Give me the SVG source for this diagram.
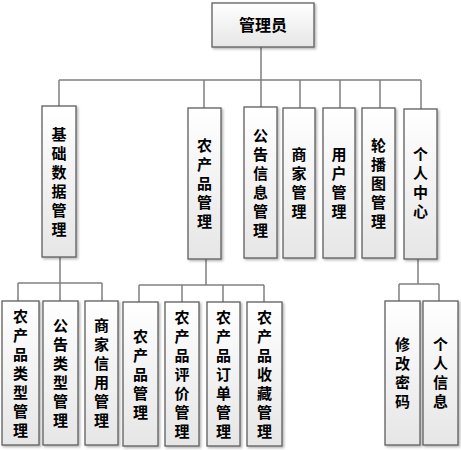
<svg xmlns="http://www.w3.org/2000/svg" width="461" height="450" viewBox="0 0 461 450">
<defs>
<linearGradient id="g" x1="0" y1="0" x2="0" y2="1">
<stop offset="0" stop-color="#ffffff"/>
<stop offset="1" stop-color="#e6e6e6"/>
</linearGradient>
<filter id="sh" x="-20%" y="-10%" width="150%" height="130%">
<feDropShadow dx="1.5" dy="1.5" stdDeviation="1" flood-color="#000" flood-opacity="0.3"/>
</filter>
</defs>
<style>
rect.b{fill:url(#g);stroke:#5f5f5f;stroke-width:1.3;filter:url(#sh)}
text{font-family:"Noto Sans CJK SC","Noto Sans",sans-serif;font-weight:bold;font-size:15px;fill:#000;text-anchor:middle}
#edges path{fill:none;stroke:#808080;stroke-width:1.5}
</style>
<rect width="461" height="450" fill="#fff"/>
<g id="edges">
<path d="M261 47V80M59 80H421M59 80V106M204 80V108M261 80V107M300 80V108M340 80V108M380 80V108M421 80V109"/>
<path d="M60 257V283M18 283H102M18 283V301M60 283V301M102 283V301"/>
<path d="M206 259V285M139 285H264M139 285V302M182 285V302M223 285V302M264 285V302"/>
<path d="M418 259V284M399 284H439M399 284V301M439 284V301"/>
</g>
<g id="root"><rect class="b" x="212" y="3" width="102" height="44"/><text x="263" y="31" style="font-size:16px">管理员</text></g>
<g id="n1"><rect class="b" x="42" y="106" width="34" height="151"/><text x="59" y="139.5"><tspan x="59">基</tspan><tspan x="59" dy="19">础</tspan><tspan x="59" dy="19">数</tspan><tspan x="59" dy="19">据</tspan><tspan x="59" dy="19">管</tspan><tspan x="59" dy="19">理</tspan></text></g>
<g id="n2"><rect class="b" x="188" y="108" width="33" height="151"/><text x="204.5" y="151"><tspan x="204.5">农</tspan><tspan x="204.5" dy="19">产</tspan><tspan x="204.5" dy="19">品</tspan><tspan x="204.5" dy="19">管</tspan><tspan x="204.5" dy="19">理</tspan></text></g>
<g id="n3"><rect class="b" x="244" y="107" width="33" height="151"/><text x="260.5" y="140.5"><tspan x="260.5">公</tspan><tspan x="260.5" dy="19">告</tspan><tspan x="260.5" dy="19">信</tspan><tspan x="260.5" dy="19">息</tspan><tspan x="260.5" dy="19">管</tspan><tspan x="260.5" dy="19">理</tspan></text></g>
<g id="n4"><rect class="b" x="283" y="108" width="32" height="150"/><text x="299" y="160"><tspan x="299">商</tspan><tspan x="299" dy="19">家</tspan><tspan x="299" dy="19">管</tspan><tspan x="299" dy="19">理</tspan></text></g>
<g id="n5"><rect class="b" x="323" y="108" width="32" height="150"/><text x="339" y="160"><tspan x="339">用</tspan><tspan x="339" dy="19">户</tspan><tspan x="339" dy="19">管</tspan><tspan x="339" dy="19">理</tspan></text></g>
<g id="n6"><rect class="b" x="362" y="108" width="33" height="150"/><text x="378.5" y="150.5"><tspan x="378.5">轮</tspan><tspan x="378.5" dy="19">播</tspan><tspan x="378.5" dy="19">图</tspan><tspan x="378.5" dy="19">管</tspan><tspan x="378.5" dy="19">理</tspan></text></g>
<g id="n7"><rect class="b" x="404" y="109" width="33" height="150"/><text x="420.5" y="160"><tspan x="420.5">个</tspan><tspan x="420.5" dy="19">人</tspan><tspan x="420.5" dy="19">中</tspan><tspan x="420.5" dy="19">心</tspan></text></g>
<g id="c1"><rect class="b" x="2" y="301" width="37" height="144"/><text x="20.5" y="321.5"><tspan x="20.5">农</tspan><tspan x="20.5" dy="19">产</tspan><tspan x="20.5" dy="19">品</tspan><tspan x="20.5" dy="19">类</tspan><tspan x="20.5" dy="19">型</tspan><tspan x="20.5" dy="19">管</tspan><tspan x="20.5" dy="19">理</tspan></text></g>
<g id="c2"><rect class="b" x="43" y="301" width="35" height="144"/><text x="60.5" y="331"><tspan x="60.5">公</tspan><tspan x="60.5" dy="19">告</tspan><tspan x="60.5" dy="19">类</tspan><tspan x="60.5" dy="19">型</tspan><tspan x="60.5" dy="19">管</tspan><tspan x="60.5" dy="19">理</tspan></text></g>
<g id="c3"><rect class="b" x="85" y="301" width="33" height="144"/><text x="101.5" y="331"><tspan x="101.5">商</tspan><tspan x="101.5" dy="19">家</tspan><tspan x="101.5" dy="19">信</tspan><tspan x="101.5" dy="19">用</tspan><tspan x="101.5" dy="19">管</tspan><tspan x="101.5" dy="19">理</tspan></text></g>
<g id="c4"><rect class="b" x="123" y="302" width="35" height="144"/><text x="140.5" y="341.5"><tspan x="140.5">农</tspan><tspan x="140.5" dy="19">产</tspan><tspan x="140.5" dy="19">品</tspan><tspan x="140.5" dy="19">管</tspan><tspan x="140.5" dy="19">理</tspan></text></g>
<g id="c5"><rect class="b" x="165" y="302" width="34" height="144"/><text x="182" y="322.5"><tspan x="182">农</tspan><tspan x="182" dy="19">产</tspan><tspan x="182" dy="19">品</tspan><tspan x="182" dy="19">评</tspan><tspan x="182" dy="19">价</tspan><tspan x="182" dy="19">管</tspan><tspan x="182" dy="19">理</tspan></text></g>
<g id="c6"><rect class="b" x="207" y="302" width="33" height="144"/><text x="223.5" y="322.5"><tspan x="223.5">农</tspan><tspan x="223.5" dy="19">产</tspan><tspan x="223.5" dy="19">品</tspan><tspan x="223.5" dy="19">订</tspan><tspan x="223.5" dy="19">单</tspan><tspan x="223.5" dy="19">管</tspan><tspan x="223.5" dy="19">理</tspan></text></g>
<g id="c7"><rect class="b" x="247" y="302" width="35" height="144"/><text x="264.5" y="322.5"><tspan x="264.5">农</tspan><tspan x="264.5" dy="19">产</tspan><tspan x="264.5" dy="19">品</tspan><tspan x="264.5" dy="19">收</tspan><tspan x="264.5" dy="19">藏</tspan><tspan x="264.5" dy="19">管</tspan><tspan x="264.5" dy="19">理</tspan></text></g>
<g id="c8"><rect class="b" x="385" y="301" width="35" height="144"/><text x="402.5" y="350"><tspan x="402.5">修</tspan><tspan x="402.5" dy="19">改</tspan><tspan x="402.5" dy="19">密</tspan><tspan x="402.5" dy="19">码</tspan></text></g>
<g id="c9"><rect class="b" x="423" y="301" width="35" height="144"/><text x="440.5" y="350"><tspan x="440.5">个</tspan><tspan x="440.5" dy="19">人</tspan><tspan x="440.5" dy="19">信</tspan><tspan x="440.5" dy="19">息</tspan></text></g>
</svg>
